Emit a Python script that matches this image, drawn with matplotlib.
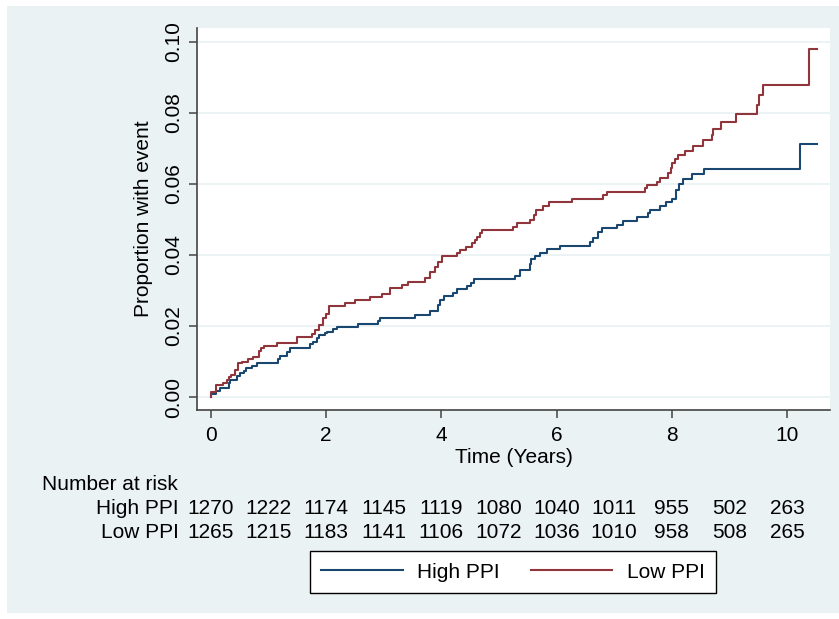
import numpy as np
import matplotlib
matplotlib.use("Agg")
import matplotlib.pyplot as plt
from matplotlib.lines import Line2D
from matplotlib.patches import Rectangle
from matplotlib.transforms import blended_transform_factory

plt.rcParams["font.family"] = ["Liberation Sans", "DejaVu Sans"]

# step curves (time in years, cumulative proportion)
high_t = [0, 0.10, 0.16, 0.31, 0.33, 0.45, 0.51, 0.57, 0.62, 0.71, 0.80, 1.17, 1.20,
          1.33, 1.38, 1.72, 1.78, 1.84, 1.88, 1.98, 2.01, 2.12, 2.19, 2.56, 2.91, 2.94,
          3.54, 3.80, 3.95, 3.98, 4.05, 4.20, 4.28, 4.45, 4.51, 4.57, 5.28, 5.37, 5.53,
          5.55, 5.63, 5.71, 5.83, 6.06, 6.58, 6.64, 6.72, 6.78, 7.05, 7.16, 7.40, 7.59,
          7.62, 7.79, 7.90, 8.00, 8.07, 8.13, 8.20, 8.34, 8.56, 10.23, 10.51]
high_p = [0.0008, 0.0017, 0.0024, 0.0039, 0.0048, 0.0060, 0.0067, 0.0073, 0.0081, 0.0088,
          0.0097, 0.0107, 0.0115, 0.0128, 0.0137, 0.0148, 0.0156, 0.0167, 0.0174, 0.0179,
          0.0184, 0.0191, 0.0198, 0.0205, 0.0215, 0.0223, 0.0232, 0.0241, 0.0259, 0.0273,
          0.0285, 0.0294, 0.0303, 0.0313, 0.0322, 0.0331, 0.0341, 0.0358, 0.0375, 0.0388,
          0.0397, 0.0407, 0.0416, 0.0426, 0.0437, 0.0447, 0.0465, 0.0475, 0.0485, 0.0497,
          0.0506, 0.0518, 0.0527, 0.0538, 0.0550, 0.0559, 0.0583, 0.0600, 0.0614, 0.0627,
          0.0642, 0.0712, 0.0712]

low_t = [0, 0.09, 0.22, 0.28, 0.32, 0.36, 0.42, 0.47, 0.54, 0.65, 0.74, 0.83, 0.88, 0.93,
         1.15, 1.49, 1.75, 1.81, 1.87, 1.94, 2.00, 2.05, 2.33, 2.50, 2.76, 2.97, 3.11,
         3.31, 3.43, 3.72, 3.80, 3.89, 3.95, 4.02, 4.27, 4.32, 4.43, 4.53, 4.585, 4.625,
         4.67, 4.70, 5.25, 5.31, 5.53, 5.60, 5.64, 5.77, 5.87, 6.26, 6.81, 6.87, 7.53,
         7.57, 7.74, 7.79, 7.94, 7.98, 8.01, 8.05, 8.11, 8.23, 8.37, 8.545, 8.69, 8.72,
         8.86, 9.11, 9.48, 9.51, 9.575, 10.37, 10.51]
low_p = [0.0015, 0.0034, 0.0039, 0.0048, 0.0055, 0.0062, 0.0076, 0.0095, 0.0100, 0.0107,
         0.0114, 0.0130, 0.0137, 0.0145, 0.0151, 0.0170, 0.0177, 0.0189, 0.0202, 0.0222,
         0.0234, 0.0256, 0.0264, 0.0272, 0.0281, 0.0289, 0.0306, 0.0315, 0.0325, 0.0336,
         0.0353, 0.0367, 0.0381, 0.0397, 0.0407, 0.0414, 0.0423, 0.0433, 0.0442, 0.0452,
         0.0461, 0.0470, 0.0480, 0.0489, 0.0499, 0.0513, 0.0527, 0.0538, 0.0549, 0.0557,
         0.0569, 0.0578, 0.0588, 0.0597, 0.0606, 0.0618, 0.0630, 0.0644, 0.0658, 0.0670,
         0.0682, 0.0694, 0.0708, 0.0724, 0.0738, 0.0755, 0.0774, 0.0796, 0.0823, 0.0851,
         0.0879, 0.0980, 0.0980]

risk_times = list(range(11))
high_risk = [1270, 1222, 1174, 1145, 1119, 1080, 1040, 1011, 955, 502, 263]
low_risk = [1265, 1215, 1183, 1141, 1106, 1072, 1036, 1010, 958, 508, 265]

blue = "#1a476f"
red = "#90353b"
bg = "#eaf2f3"
fs = 15

fig = plt.figure(figsize=(8.39, 6.19), dpi=100, facecolor="white")
fig.patches.append(Rectangle((7 / 839, 1 - 613 / 619), 1 - 7 / 839, 607 / 619,
                             transform=fig.transFigure, facecolor=bg, edgecolor="none", zorder=-10))

ax = fig.add_axes([197 / 839, 1 - 410 / 619, 633 / 839, 382 / 619])
ax.set_facecolor("white")

# full step lines starting at (0, 0)
ax.step([0] + high_t, [0] + high_p, where="post", color=blue, lw=1.5, zorder=3)
ax.step([0] + low_t, [0] + low_p, where="post", color=red, lw=1.5, zorder=3)

x0 = -(210.7 - 197) / 57.65
x1 = (830 - 210.7) / 57.65
ax.set_xlim(x0, x1)
ax.set_ylim(-13 / 3550, (397 - 28) / 3550)

ax.set_xticks([0, 2, 4, 6, 8, 10])
ax.set_yticks([0, 0.02, 0.04, 0.06, 0.08, 0.10])
ax.set_yticklabels(["0.00", "0.02", "0.04", "0.06", "0.08", "0.10"], rotation=90, va="center")
ax.yaxis.grid(True, color=bg, lw=1.3)
ax.set_axisbelow(True)

for s in ["top", "right"]:
    ax.spines[s].set_visible(False)
for s in ["left", "bottom"]:
    ax.spines[s].set_color("#444444")
    ax.spines[s].set_linewidth(1.2)
ax.tick_params(axis="both", direction="out", length=6, width=1.1, color="#444444",
               labelsize=fs, pad=4)
ax.tick_params(axis="x", pad=5.5)
ax.set_xlabel("Time (Years)", fontsize=fs, labelpad=2.5)
ax.set_ylabel("Proportion with event", fontsize=fs, labelpad=8)

# number at risk table
tr = blended_transform_factory(ax.transData, fig.transFigure)
fig.text(42 / 839, 1 - 485 / 619, "Number at risk", fontsize=fs, ha="left", va="center")
fig.text(179 / 839, 1 - 508 / 619, "High PPI", fontsize=fs, ha="right", va="center")
fig.text(179 / 839, 1 - 533 / 619, "Low PPI", fontsize=fs, ha="right", va="center")
for t, h, l in zip(risk_times, high_risk, low_risk):
    ax.text(t, 1 - 508 / 619, str(h), transform=tr, fontsize=fs, ha="center", va="center")
    ax.text(t, 1 - 533 / 619, str(l), transform=tr, fontsize=fs, ha="center", va="center")

handles = [Line2D([], [], color=blue, lw=1.5), Line2D([], [], color=red, lw=1.5)]
leg = fig.legend(handles, ["High PPI", "Low PPI"], loc="center",
                 bbox_to_anchor=(513 / 839, 1 - 572 / 619), ncol=2, fontsize=fs,
                 frameon=True, fancybox=False, edgecolor="black", framealpha=1,
                 handlelength=3.9, columnspacing=1.5, handletextpad=0.7, borderpad=0.55)
leg.get_frame().set_linewidth(1.0)

fig.savefig("out.png", dpi=100, facecolor="white")
